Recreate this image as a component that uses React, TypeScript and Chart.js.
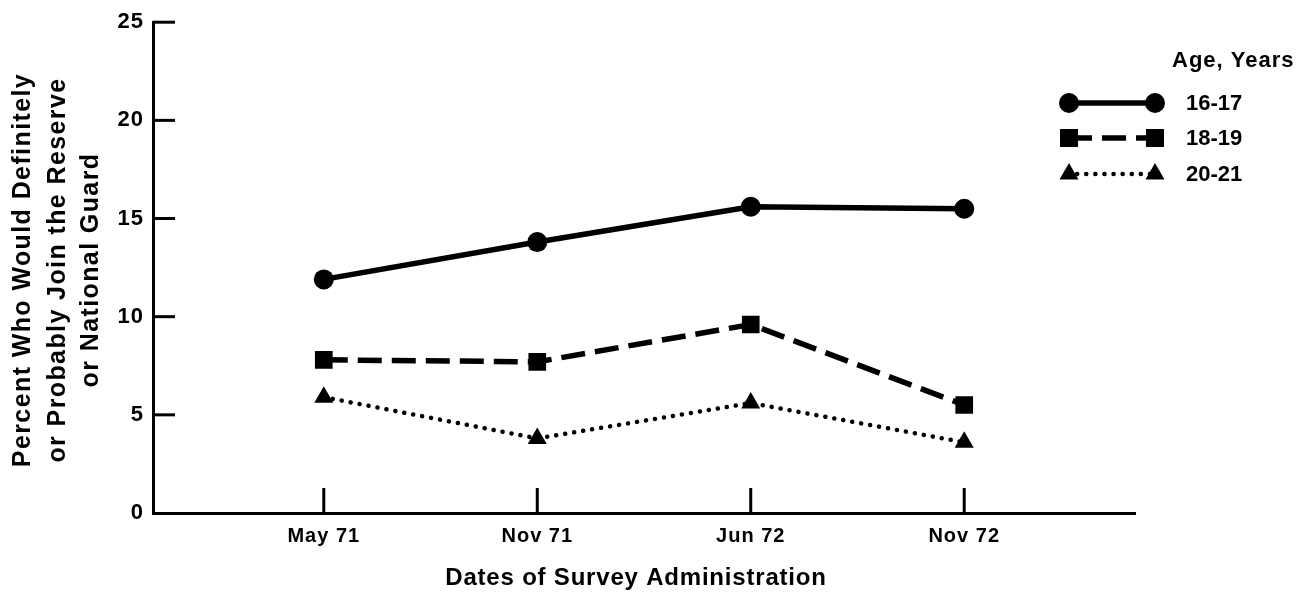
import React, { useEffect, useRef } from "react";
import { Chart, registerables } from "chart.js";

Chart.register(...registerables);

const categories = ["May 71", "Nov 71", "Jun 72", "Nov 72"];
const yTicks = [0, 5, 10, 15, 20, 25];
const seriesNames = ["16-17", "18-19", "20-21"];
const age1617 = [11.9, 13.8, 15.6, 15.5];
const age1819 = [7.8, 7.7, 9.6, 5.5];
const age2021 = [5.9, 3.8, 5.6, 3.6];
const yTitleLines = [
  "Percent Who Would Definitely",
  "or Probably Join the Reserve",
  "or National Guard",
];
const xTitle = "Dates of Survey Administration";
const legendTitle = "Age, Years";

const FONT = "'Liberation Sans', Arial, sans-serif";

function drawMarker(ctx: CanvasRenderingContext2D, style: string, x: number, y: number) {
  ctx.save();
  ctx.fillStyle = "#000";
  ctx.beginPath();
  if (style === "circle") {
    ctx.arc(x, y, 10, 0, Math.PI * 2);
  } else if (style === "rect") {
    ctx.rect(x - 9, y - 9, 18, 18);
  } else {
    const r = 11;
    ctx.moveTo(x, y - r);
    ctx.lineTo(x + r * 0.866, y + r * 0.5);
    ctx.lineTo(x - r * 0.866, y + r * 0.5);
    ctx.closePath();
  }
  ctx.fill();
  ctx.restore();
}

const lineStyles = [
  { dash: [] as number[], width: 5.5, cap: "butt" as CanvasLineCap, marker: "circle" },
  { dash: [24, 10], width: 5.5, cap: "butt" as CanvasLineCap, marker: "rect" },
  { dash: [0.1, 9], width: 4.5, cap: "round" as CanvasLineCap, marker: "triangle" },
];

const spacingPlugin = {
  id: "spacing",
  beforeDraw(chart: any) {
    (chart.ctx as any).letterSpacing = "1px";
  },
  beforeDatasetsDraw(chart: any) {
    (chart.ctx as any).letterSpacing = "0px";
  },
};

const decorPlugin = {
  id: "decor",
  afterDraw(chart: any) {
    const ctx: CanvasRenderingContext2D = chart.ctx;
    const xs = chart.scales.x;
    const ys = chart.scales.y;
    const area = chart.chartArea;
    ctx.save();
    (ctx as any).letterSpacing = "0px";
    ctx.strokeStyle = "#000";
    ctx.lineWidth = 3;
    yTicks.forEach((v) => {
      if (v === 0) return;
      const py = ys.getPixelForValue(v);
      ctx.beginPath();
      ctx.moveTo(area.left, py);
      ctx.lineTo(area.left + 22, py);
      ctx.stroke();
    });
    categories.forEach((_, i) => {
      const px = xs.getPixelForValue(i);
      ctx.beginPath();
      ctx.moveTo(px, area.bottom);
      ctx.lineTo(px, area.bottom - 25);
      ctx.stroke();
    });
    ctx.fillStyle = "#000";
    ctx.textAlign = "center";
    ctx.textBaseline = "middle";
    ctx.font = `bold 25px ${FONT}`;
    (ctx as any).letterSpacing = "1.4px";
    const cy = 270;
    const lineX = [23, 58, 91];
    yTitleLines.forEach((t, i) => {
      ctx.save();
      ctx.translate(lineX[i], cy);
      ctx.rotate(-Math.PI / 2);
      ctx.fillText(t, 0, 0);
      ctx.restore();
    });
    ctx.font = `bold 24px ${FONT}`;
    (ctx as any).letterSpacing = "0.8px";
    ctx.fillText(xTitle, 636, 578);
    ctx.textAlign = "left";
    ctx.font = `bold 22px ${FONT}`;
    (ctx as any).letterSpacing = "1px";
    ctx.fillText(legendTitle, 1172, 61);
    const rows = [103, 138, 174];
    seriesNames.forEach((name, i) => {
      const st = lineStyles[i];
      const y = rows[i];
      ctx.save();
      ctx.lineWidth = st.width;
      ctx.lineCap = st.cap;
      ctx.setLineDash(st.dash);
      ctx.beginPath();
      ctx.moveTo(1068, y);
      ctx.lineTo(1155, y);
      ctx.stroke();
      ctx.restore();
      drawMarker(ctx, st.marker, 1069, y);
      drawMarker(ctx, st.marker, 1155, y);
      ctx.font = `bold 22px ${FONT}`;
      (ctx as any).letterSpacing = "0px";
      ctx.fillText(name, 1186, y + 1);
    });
    ctx.restore();
  },
};

export default function App() {
  const ref = useRef<HTMLCanvasElement | null>(null);
  useEffect(() => {
    if (!ref.current) return;
    const series = [age1617, age1819, age2021];
    const pointStyles = ["circle", "rect", "triangle"];
    const radii = [10, 12.5, 11];
    const chart = new Chart(ref.current, {
      type: "line",
      data: {
        datasets: series.map((vals, s) => ({
          label: seriesNames[s],
          data: vals.map((v, i) => ({ x: i, y: v })),
          borderColor: "#000",
          backgroundColor: "#000",
          borderWidth: lineStyles[s].width,
          borderDash: lineStyles[s].dash,
          borderCapStyle: lineStyles[s].cap,
          pointStyle: pointStyles[s] as any,
          pointRadius: radii[s],
          pointBorderWidth: 0,
          pointBackgroundColor: "#000",
          tension: 0,
          fill: false,
        })),
      },
      options: {
        animation: false,
        responsive: false,
        maintainAspectRatio: false,
        layout: { padding: { left: 0, right: 173, top: 16, bottom: 0 } },
        plugins: { legend: { display: false }, tooltip: { enabled: false } },
        scales: {
          x: {
            type: "linear",
            min: -0.8,
            max: 3.8,
            afterBuildTicks: (scale: any) => {
              scale.ticks = categories.map((_, i) => ({ value: i }));
            },
            afterFit: (scale: any) => {
              scale.height = 87;
            },
            ticks: {
              autoSkip: false,
              maxRotation: 0,
              padding: 11,
              color: "#000",
              font: { family: FONT, size: 20, weight: "bold" },
              callback: (v: any) => categories[v] ?? "",
            },
            grid: { display: true, drawOnChartArea: false, drawTicks: false },
            border: { display: true, color: "#000", width: 3 },
          },
          y: {
            min: 0,
            max: 25,
            afterBuildTicks: (scale: any) => {
              scale.ticks = yTicks.map((v) => ({ value: v }));
            },
            afterFit: (scale: any) => {
              scale.width = 153;
            },
            ticks: {
              padding: 9,
              color: "#000",
              font: { family: FONT, size: 22, weight: "bold" },
            },
            grid: { display: true, drawOnChartArea: false, drawTicks: false },
            border: { display: true, color: "#000", width: 3 },
          },
        },
      },
      plugins: [spacingPlugin, decorPlugin],
    });
    return () => chart.destroy();
  }, []);
  return (
    <div style={{ position: "fixed", left: 0, top: 0, width: 1308, height: 600, background: "#fff" }}>
      <canvas ref={ref} width={1308} height={600} style={{ width: 1308, height: 600 }} />
    </div>
  );
}
